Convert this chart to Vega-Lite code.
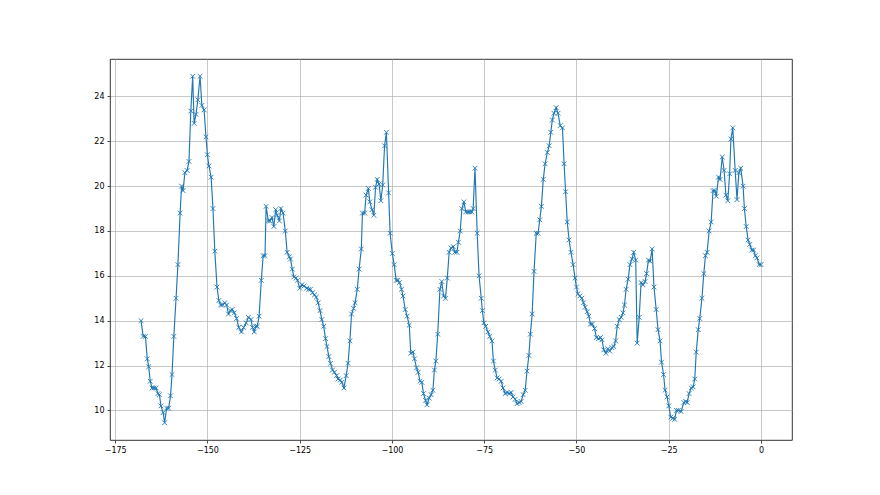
{
"$schema":"https://vega.github.io/schema/vega-lite/v6.json",
"width":682,"height":381,
"autosize":{"type":"none"},
"padding":{"left":110,"top":59,"right":88,"bottom":55},
"background":"white",
"config":{"view":{"stroke":"#000000","strokeWidth":0.8},
"axis":{"domain":false,"grid":true,"gridColor":"#b0b0b0","gridWidth":0.7,"tickColor":"#000000","tickWidth":0.7,"tickSize":3,"labelFont":"DejaVu Sans","labelFontSize":8,"labelColor":"#000000","labelPadding":3,"title":null}},
"data":{"values":[
{"t":-168.0,"v":14.0},{"t":-167.4,"v":13.3},{"t":-166.8,"v":13.3},{"t":-166.3,"v":12.3},{"t":-165.9,"v":11.95},{"t":-165.5,"v":11.3},{"t":-165.0,"v":11.0},{"t":-164.5,"v":11.0},{"t":-163.9,"v":11.0},{"t":-163.4,"v":10.75},{"t":-163.0,"v":10.7},{"t":-162.6,"v":10.2},{"t":-162.0,"v":9.9},{"t":-161.6,"v":9.45},{"t":-161.05,"v":10.1},{"t":-160.5,"v":10.1},{"t":-160.0,"v":10.65},{"t":-159.6,"v":11.6},{"t":-159.1,"v":13.3},{"t":-158.5,"v":15.0},{"t":-158.0,"v":16.5},{"t":-157.4,"v":18.8},{"t":-157.0,"v":20.0},{"t":-156.6,"v":19.8},{"t":-156.1,"v":20.6},{"t":-155.5,"v":20.7},{"t":-155.0,"v":21.1},{"t":-154.5,"v":23.35},{"t":-154.0,"v":24.9},{"t":-153.6,"v":22.8},{"t":-153.1,"v":23.2},{"t":-152.6,"v":23.85},{"t":-152.0,"v":24.9},{"t":-151.5,"v":23.6},{"t":-150.9,"v":23.4},{"t":-150.4,"v":22.2},{"t":-150.0,"v":21.4},{"t":-149.6,"v":20.9},{"t":-149.0,"v":20.4},{"t":-148.5,"v":19.0},{"t":-148.0,"v":17.1},{"t":-147.4,"v":15.5},{"t":-146.9,"v":14.9},{"t":-146.4,"v":14.7},{"t":-145.9,"v":14.7},{"t":-145.3,"v":14.8},{"t":-144.8,"v":14.7},{"t":-144.3,"v":14.3},{"t":-143.8,"v":14.45},{"t":-143.3,"v":14.5},{"t":-142.7,"v":14.35},{"t":-142.1,"v":14.1},{"t":-141.5,"v":13.7},{"t":-140.8,"v":13.5},{"t":-140.2,"v":13.7},{"t":-139.5,"v":13.9},{"t":-138.9,"v":14.15},
{"t":-138.2,"v":14.05},{"t":-137.8,"v":13.7},{"t":-137.3,"v":13.5},{"t":-136.9,"v":13.75},{"t":-136.5,"v":13.75},{"t":-136.0,"v":14.2},{"t":-135.4,"v":15.8},{"t":-134.9,"v":16.9},{"t":-134.4,"v":16.9},{"t":-134.1,"v":19.1},{"t":-133.5,"v":18.45},{"t":-133.1,"v":18.45},{"t":-132.5,"v":18.6},{"t":-132.0,"v":18.2},{"t":-131.5,"v":18.95},{"t":-131.1,"v":18.7},{"t":-130.5,"v":18.45},{"t":-130.1,"v":19.0},{"t":-129.5,"v":18.8},{"t":-128.9,"v":18.0},{"t":-128.4,"v":17.05},{"t":-127.8,"v":16.85},{"t":-127.5,"v":16.75},{"t":-127.0,"v":16.3},{"t":-126.6,"v":15.95},{"t":-126.0,"v":15.9},{"t":-125.6,"v":15.8},{"t":-125.0,"v":15.45},{"t":-124.4,"v":15.6},{"t":-123.8,"v":15.55},{"t":-123.1,"v":15.45},{"t":-122.6,"v":15.4},{"t":-122.1,"v":15.4},{"t":-121.5,"v":15.25},{"t":-121.0,"v":15.15},{"t":-120.5,"v":15.05},{"t":-120.0,"v":14.8},{"t":-119.5,"v":14.45},{"t":-119.0,"v":14.05},{"t":-118.5,"v":13.75},{"t":-118.0,"v":13.2},{"t":-117.6,"v":12.85},{"t":-117.1,"v":12.4},{"t":-116.65,"v":12.1},{"t":-116.1,"v":11.8},{"t":-115.6,"v":11.7},{"t":-115.0,"v":11.55},{"t":-114.6,"v":11.4},{"t":-114.0,"v":11.35},{"t":-113.6,"v":11.25},{"t":-113.0,"v":11.0},{"t":-112.4,"v":11.55},{"t":-111.9,"v":12.1},
{"t":-111.4,"v":13.1},{"t":-110.95,"v":14.3},{"t":-110.4,"v":14.55},{"t":-110.0,"v":14.8},{"t":-109.4,"v":15.4},{"t":-108.9,"v":16.3},{"t":-108.3,"v":17.2},{"t":-108.0,"v":18.8},{"t":-107.4,"v":18.8},{"t":-107.0,"v":19.6},{"t":-106.4,"v":19.9},{"t":-106.0,"v":19.3},{"t":-105.4,"v":18.95},{"t":-104.9,"v":18.7},{"t":-104.45,"v":19.95},{"t":-104.0,"v":20.3},{"t":-103.5,"v":20.1},{"t":-103.0,"v":19.35},{"t":-102.5,"v":20.05},{"t":-102.0,"v":21.8},{"t":-101.5,"v":22.4},{"t":-100.9,"v":19.7},{"t":-100.5,"v":17.9},{"t":-99.9,"v":17.0},{"t":-99.4,"v":16.5},{"t":-98.85,"v":15.8},{"t":-98.4,"v":15.8},{"t":-97.95,"v":15.7},{"t":-97.4,"v":15.4},{"t":-97.0,"v":15.1},{"t":-96.4,"v":14.5},{"t":-95.9,"v":14.2},{"t":-95.3,"v":13.8},{"t":-94.9,"v":12.55},{"t":-94.3,"v":12.6},{"t":-93.9,"v":12.3},{"t":-93.35,"v":11.9},{"t":-92.9,"v":11.7},{"t":-92.4,"v":11.3},{"t":-91.9,"v":11.25},{"t":-91.45,"v":10.75},{"t":-90.9,"v":10.45},{"t":-90.5,"v":10.25},{"t":-89.9,"v":10.55},{"t":-89.4,"v":10.7},{"t":-88.9,"v":10.9},{"t":-88.5,"v":11.8},{"t":-88.1,"v":12.2},{"t":-87.6,"v":13.4},{"t":-87.0,"v":15.4},{"t":-86.5,"v":15.75},{"t":-86.0,"v":15.1},{"t":-85.5,"v":15.0},{"t":-85.0,"v":15.9},{"t":-84.5,"v":17.05},{"t":-84.0,"v":17.25},{"t":-83.4,"v":17.3},{"t":-83.0,"v":17.05},{"t":-82.4,"v":17.05},{"t":-82.0,"v":17.5},{"t":-81.5,"v":18.0},
{"t":-81.05,"v":19.0},{"t":-80.5,"v":19.3},{"t":-80.0,"v":18.85},{"t":-79.4,"v":18.85},{"t":-78.9,"v":18.85},{"t":-78.35,"v":18.85},{"t":-78.0,"v":19.0},{"t":-77.5,"v":20.8},{"t":-76.9,"v":17.9},{"t":-76.4,"v":16.0},{"t":-75.8,"v":15.0},{"t":-75.5,"v":14.45},{"t":-75.1,"v":13.9},{"t":-74.6,"v":13.75},{"t":-74.0,"v":13.5},{"t":-73.5,"v":13.3},{"t":-72.9,"v":13.1},{"t":-72.5,"v":12.2},{"t":-72.0,"v":11.8},{"t":-71.5,"v":11.45},{"t":-70.95,"v":11.4},{"t":-70.4,"v":11.3},{"t":-69.9,"v":11.0},{"t":-69.3,"v":10.75},{"t":-68.8,"v":10.8},{"t":-68.25,"v":10.75},{"t":-67.7,"v":10.8},{"t":-67.2,"v":10.6},{"t":-66.6,"v":10.5},{"t":-66.1,"v":10.3},{"t":-65.5,"v":10.35},{"t":-65.0,"v":10.4},{"t":-64.45,"v":10.7},{"t":-63.9,"v":10.9},{"t":-63.4,"v":11.75},{"t":-62.9,"v":12.45},{"t":-62.5,"v":13.4},{"t":-62.0,"v":14.3},{"t":-61.5,"v":16.2},{"t":-60.9,"v":17.9},{"t":-60.4,"v":17.9},{"t":-59.95,"v":18.5},{"t":-59.5,"v":19.1},{"t":-59.0,"v":20.3},{"t":-58.5,"v":21.0},{"t":-57.9,"v":21.5},{"t":-57.4,"v":21.8},{"t":-56.96,"v":22.4},{"t":-56.55,"v":22.95},{"t":-56.1,"v":23.25},{"t":-55.5,"v":23.5},{"t":-55.0,"v":23.25},{"t":-54.4,"v":22.7},{"t":-53.8,"v":22.6},{"t":-53.35,"v":21.0},{"t":-52.95,"v":19.75},{"t":-52.5,"v":18.4},{"t":-52.0,"v":17.6},{"t":-51.5,"v":17.05},
{"t":-50.9,"v":16.5},{"t":-50.4,"v":15.9},{"t":-50.0,"v":15.5},{"t":-49.6,"v":15.2},{"t":-49.1,"v":15.1},{"t":-48.55,"v":15.0},{"t":-48.1,"v":14.8},{"t":-47.65,"v":14.6},{"t":-47.1,"v":14.4},{"t":-46.65,"v":14.2},{"t":-46.2,"v":13.85},{"t":-45.7,"v":13.85},{"t":-45.1,"v":13.65},{"t":-44.6,"v":13.25},{"t":-44.0,"v":13.2},{"t":-43.5,"v":13.25},{"t":-43.1,"v":13.15},{"t":-42.6,"v":12.7},{"t":-42.05,"v":12.55},{"t":-41.5,"v":12.75},{"t":-41.0,"v":12.65},{"t":-40.4,"v":12.8},{"t":-39.9,"v":12.85},{"t":-39.4,"v":13.1},{"t":-38.95,"v":13.75},{"t":-38.4,"v":14.05},{"t":-37.9,"v":14.15},{"t":-37.4,"v":14.35},{"t":-37.0,"v":14.7},{"t":-36.55,"v":15.4},{"t":-36.0,"v":15.85},{"t":-35.5,"v":16.5},{"t":-35.0,"v":16.75},{"t":-34.5,"v":17.05},{"t":-33.95,"v":16.7},{"t":-33.55,"v":13.0},{"t":-33.0,"v":14.15},{"t":-32.5,"v":15.7},{"t":-31.95,"v":15.6},{"t":-31.4,"v":15.75},{"t":-31.0,"v":16.1},{"t":-30.5,"v":16.7},{"t":-30.05,"v":16.65},{"t":-29.5,"v":17.2},{"t":-29.0,"v":15.5},{"t":-28.4,"v":14.5},{"t":-27.9,"v":13.6},{"t":-27.35,"v":13.1},{"t":-26.95,"v":12.15},{"t":-26.4,"v":11.6},{"t":-26.0,"v":10.9},{"t":-25.45,"v":10.6},{"t":-25.0,"v":10.2},{"t":-24.45,"v":9.7},{"t":-23.9,"v":9.65},{"t":-23.4,"v":9.6},{"t":-22.9,"v":10.0},{"t":-22.4,"v":10.0},{"t":-21.65,"v":9.95},
{"t":-20.9,"v":10.35},{"t":-20.4,"v":10.4},{"t":-20.0,"v":10.35},{"t":-19.5,"v":10.75},{"t":-18.9,"v":11.0},{"t":-18.4,"v":11.05},{"t":-17.95,"v":11.4},{"t":-17.55,"v":12.6},{"t":-17.0,"v":13.6},{"t":-16.6,"v":14.1},{"t":-16.0,"v":15.0},{"t":-15.5,"v":16.1},{"t":-15.05,"v":16.9},{"t":-14.6,"v":17.05},{"t":-14.05,"v":18.0},{"t":-13.5,"v":18.4},{"t":-13.0,"v":19.8},{"t":-12.5,"v":19.8},{"t":-12.1,"v":19.55},{"t":-11.5,"v":20.4},{"t":-11.1,"v":20.3},{"t":-10.5,"v":21.3},{"t":-10.0,"v":20.7},{"t":-9.5,"v":19.6},{"t":-9.0,"v":19.35},{"t":-8.5,"v":20.55},{"t":-8.15,"v":22.1},{"t":-7.65,"v":22.6},{"t":-7.0,"v":20.7},{"t":-6.5,"v":19.4},{"t":-6.0,"v":20.6},{"t":-5.5,"v":20.8},{"t":-4.85,"v":20.0},{"t":-4.5,"v":19.0},{"t":-4.0,"v":18.2},{"t":-3.5,"v":17.6},{"t":-3.05,"v":17.4},{"t":-2.5,"v":17.15},{"t":-2.0,"v":17.15},{"t":-1.5,"v":16.9},{"t":-1.1,"v":16.8},{"t":-0.5,"v":16.5},{"t":0.0,"v":16.5}
]},
"encoding":{
"x":{"field":"t","type":"quantitative","scale":{"domain":[-176.4,8.4],"nice":false,"zero":false},"axis":{"values":[-175,-150,-125,-100,-75,-50,-25,0]}},
"y":{"field":"v","type":"quantitative","scale":{"domain":[8.68,25.67],"nice":false,"zero":false},"axis":{"values":[10,12,14,16,18,20,22,24]}}
},
"layer":[
{"mark":{"type":"line","color":"#1f77b4","strokeWidth":1.15,"clip":true}},
{"mark":{"type":"point","shape":"M-1,-1L1,1M-1,1L1,-1","filled":false,"stroke":"#1f77b4","strokeWidth":0.9,"size":22,"opacity":1,"clip":true}}
]
}
